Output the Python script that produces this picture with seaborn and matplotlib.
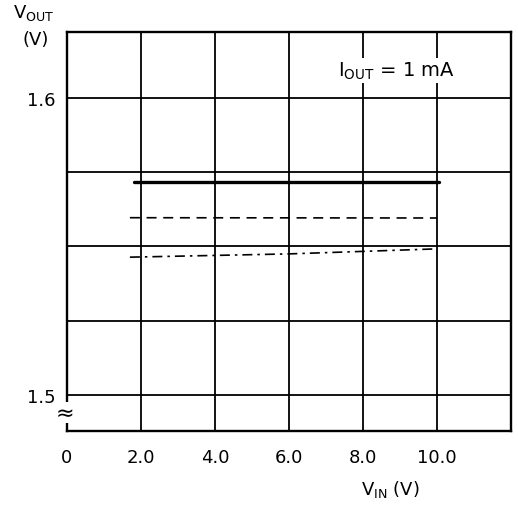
import pandas as pd
import matplotlib.pyplot as plt
import seaborn as sns

# Data (V_IN in volts, V_OUT in volts)
vin_solid = [1.8, 10.05]
vout_solid = [1.5717, 1.5717]

vin_dashed = [1.7, 10.0]
vout_dashed = [1.5597, 1.5596]

vin_dashdot = [1.7, 6.0, 10.0]
vout_dashdot = [1.5464, 1.5475, 1.5492]

x_ticks = [0, 2, 4, 6, 8, 10, 12]
x_ticklabels = ['0', '2.0', '4.0', '6.0', '8.0', '10.0', '']
y_ticks = [1.5, 1.525, 1.55, 1.575, 1.6]
y_ticklabels = ['1.5', '', '', '', '1.6']

sns.set_style('white')
plt.rcParams['font.family'] = ['DejaVu Sans']
plt.rcParams['text.color'] = 'black'
plt.rcParams['xtick.color'] = 'black'
plt.rcParams['ytick.color'] = 'black'

fig = plt.figure(figsize=(5.18, 5.06), dpi=100)
ax = fig.add_axes([67 / 518, 1 - 432 / 506, (511 - 67) / 518, (432 - 33) / 506])

sns.lineplot(x=vin_solid, y=vout_solid, ax=ax, color='black', linewidth=2.4)
sns.lineplot(x=vin_dashed, y=vout_dashed, ax=ax, color='black', linewidth=1.2,
             linestyle=(0, (6, 4)))
sns.lineplot(x=vin_dashdot, y=vout_dashdot, ax=ax, color='black', linewidth=1.2,
             linestyle=(0, (6, 3, 1.5, 3)))

ax.set_xlim(0, 12)
ax.set_ylim(1.4878, 1.6223)
ax.set_xticks(x_ticks)
ax.set_xticklabels(x_ticklabels)
ax.set_yticks(y_ticks)
ax.set_yticklabels(y_ticklabels)
ax.tick_params(length=0, labelsize=13)
ax.tick_params(axis='x', pad=12)
ax.tick_params(axis='y', pad=8)

ax.grid(True, color='black', linewidth=1.3)
ax.set_axisbelow(True)
for s in ax.spines.values():
    s.set_color('black')
    s.set_linewidth(1.7)

# axis captions
fig.text(13 / 518, 1 - 13 / 506, r'V$_{\mathregular{OUT}}$', fontsize=13, va='center', ha='left')
fig.text(22 / 518, 1 - 40 / 506, '(V)', fontsize=13, va='center', ha='left')
fig.text(390 / 518, 1 - 490 / 506, r'V$_{\mathregular{IN}}$ (V)', fontsize=13, va='center', ha='center')

ax.text(8.9, 1.6093, r'I$_{\mathregular{OUT}}$ = 1 mA', fontsize=14, ha='center', va='center',
        bbox=dict(facecolor='white', edgecolor='none', pad=1.5))

# axis break mark
ax.text(-0.05, 1.4939, '≈', fontsize=16, ha='center', va='center',
        bbox=dict(facecolor='white', edgecolor='none', pad=0.3), clip_on=False)

plt.savefig('out.png', dpi=100)
